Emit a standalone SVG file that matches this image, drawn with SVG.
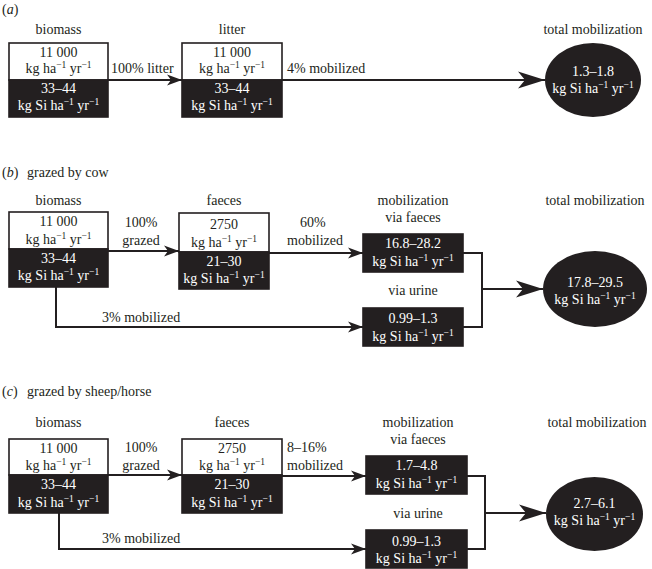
<svg xmlns="http://www.w3.org/2000/svg" width="652" height="569" viewBox="0 0 652 569">
<style>
text{font-family:"Liberation Serif","Times New Roman",serif;font-size:14px;fill:#231f20}
.c{text-anchor:middle}
.w{fill:#fff;text-anchor:middle}
.sup{font-size:9.5px}
.box{fill:#fff;stroke:#231f20;stroke-width:1.6}
.blk{fill:#231f20;stroke:#231f20;stroke-width:1.6}
.ln{fill:none;stroke:#231f20;stroke-width:2}
.sa{marker-end:url(#ah)}
.ba{marker-end:url(#bh)}
</style>
<defs>
<marker id="ah" markerUnits="userSpaceOnUse" markerWidth="16" markerHeight="11" refX="15" refY="5.5" orient="auto" overflow="visible">
<path d="M0,0 L15,5.5 L0,11 L4,5.5 z" fill="#231f20"/>
</marker>
<marker id="bh" markerUnits="userSpaceOnUse" markerWidth="28" markerHeight="17" refX="27" refY="8.5" orient="auto" overflow="visible">
<path d="M0,0 L27,8.5 L0,17 L7,8.5 z" fill="#231f20"/>
</marker>
</defs>

<!-- Panel a -->
<g id="panel-a-label">
<text x="2" y="14">(<tspan font-style="italic">a</tspan>)</text>
</g>
<g id="a-biomass">
<text class="c" x="58.5" y="34">biomass</text>
<rect class="box" x="9" y="43" width="99" height="37"/>
<rect class="blk" x="9" y="80" width="99" height="37"/>
<text class="c" x="58.5" y="57">11 000</text>
<text class="c" x="58.5" y="73">kg ha<tspan class="sup" dy="-5">−1</tspan><tspan dy="5"> yr</tspan><tspan class="sup" dy="-5">−1</tspan></text>
<text class="w" x="58.5" y="93">33–44</text>
<text class="w" x="58.5" y="110">kg Si ha<tspan class="sup" dy="-5">−1</tspan><tspan dy="5"> yr</tspan><tspan class="sup" dy="-5">−1</tspan></text>
</g>
<g id="a-litter">
<text class="c" x="232" y="34">litter</text>
<rect class="box" x="182" y="43" width="100" height="37"/>
<rect class="blk" x="182" y="80" width="100" height="37"/>
<text class="c" x="232" y="57">11 000</text>
<text class="c" x="232" y="73">kg ha<tspan class="sup" dy="-5">−1</tspan><tspan dy="5"> yr</tspan><tspan class="sup" dy="-5">−1</tspan></text>
<text class="w" x="232" y="93">33–44</text>
<text class="w" x="232" y="110">kg Si ha<tspan class="sup" dy="-5">−1</tspan><tspan dy="5"> yr</tspan><tspan class="sup" dy="-5">−1</tspan></text>
</g>
<g id="a-total">
<text class="c" x="593" y="34">total mobilization</text>
<ellipse cx="593" cy="80" rx="48" ry="37" fill="#231f20"/>
<text class="w" x="593" y="76">1.3–1.8</text>
<text class="w" x="593" y="93">kg Si ha<tspan class="sup" dy="-5">−1</tspan><tspan dy="5"> yr</tspan><tspan class="sup" dy="-5">−1</tspan></text>
</g>

<!-- Panel b -->
<g id="panel-b-label">
<text x="2" y="177">(<tspan font-style="italic">b</tspan>)<tspan x="27">grazed by cow</tspan></text>
</g>
<g id="b-biomass">
<text class="c" x="58.5" y="205">biomass</text>
<rect class="box" x="9" y="212" width="99" height="37"/>
<rect class="blk" x="9" y="249" width="99" height="38"/>
<text class="c" x="58.5" y="226">11 000</text>
<text class="c" x="58.5" y="244">kg ha<tspan class="sup" dy="-5">−1</tspan><tspan dy="5"> yr</tspan><tspan class="sup" dy="-5">−1</tspan></text>
<text class="w" x="58.5" y="263">33–44</text>
<text class="w" x="58.5" y="280">kg Si ha<tspan class="sup" dy="-5">−1</tspan><tspan dy="5"> yr</tspan><tspan class="sup" dy="-5">−1</tspan></text>
</g>
<g id="b-faeces">
<text class="c" x="224" y="205">faeces</text>
<rect class="box" x="179" y="213" width="90" height="39"/>
<rect class="blk" x="179" y="252" width="90" height="37"/>
<text class="c" x="224" y="229">2750</text>
<text class="c" x="224" y="247">kg ha<tspan class="sup" dy="-5">−1</tspan><tspan dy="5"> yr</tspan><tspan class="sup" dy="-5">−1</tspan></text>
<text class="w" x="224" y="266">21–30</text>
<text class="w" x="224" y="283">kg Si ha<tspan class="sup" dy="-5">−1</tspan><tspan dy="5"> yr</tspan><tspan class="sup" dy="-5">−1</tspan></text>
</g>
<g id="b-mob-faeces">
<text class="c" x="413" y="205">mobilization</text>
<text class="c" x="413" y="222">via faeces</text>
<rect class="blk" x="363" y="234" width="100" height="38"/>
<text class="w" x="413" y="248">16.8–28.2</text>
<text class="w" x="413" y="266">kg Si ha<tspan class="sup" dy="-5">−1</tspan><tspan dy="5"> yr</tspan><tspan class="sup" dy="-5">−1</tspan></text>
</g>
<g id="b-mob-urine">
<text class="c" x="413" y="295">via urine</text>
<rect class="blk" x="363" y="308" width="100" height="38"/>
<text class="w" x="413" y="323">0.99–1.3</text>
<text class="w" x="413" y="341">kg Si ha<tspan class="sup" dy="-5">−1</tspan><tspan dy="5"> yr</tspan><tspan class="sup" dy="-5">−1</tspan></text>
</g>
<g id="b-total">
<text class="c" x="595" y="205">total mobilization</text>
<ellipse cx="595" cy="289" rx="52" ry="38" fill="#231f20"/>
<text class="w" x="595" y="287">17.8–29.5</text>
<text class="w" x="595" y="304">kg Si ha<tspan class="sup" dy="-5">−1</tspan><tspan dy="5"> yr</tspan><tspan class="sup" dy="-5">−1</tspan></text>
</g>

<!-- Panel c -->
<g id="panel-c-label">
<text x="2" y="396">(<tspan font-style="italic">c</tspan>)<tspan x="27">grazed by sheep/horse</tspan></text>
</g>
<g id="c-biomass">
<text class="c" x="58.5" y="427">biomass</text>
<rect class="box" x="9" y="439" width="99" height="36"/>
<rect class="blk" x="9" y="475" width="99" height="38"/>
<text class="c" x="58.5" y="453">11 000</text>
<text class="c" x="58.5" y="470">kg ha<tspan class="sup" dy="-5">−1</tspan><tspan dy="5"> yr</tspan><tspan class="sup" dy="-5">−1</tspan></text>
<text class="w" x="58.5" y="489">33–44</text>
<text class="w" x="58.5" y="507">kg Si ha<tspan class="sup" dy="-5">−1</tspan><tspan dy="5"> yr</tspan><tspan class="sup" dy="-5">−1</tspan></text>
</g>
<g id="c-faeces">
<text class="c" x="232" y="427">faeces</text>
<rect class="box" x="182" y="439" width="100" height="36"/>
<rect class="blk" x="182" y="475" width="100" height="38"/>
<text class="c" x="232" y="453">2750</text>
<text class="c" x="232" y="470">kg ha<tspan class="sup" dy="-5">−1</tspan><tspan dy="5"> yr</tspan><tspan class="sup" dy="-5">−1</tspan></text>
<text class="w" x="232" y="489">21–30</text>
<text class="w" x="232" y="507">kg Si ha<tspan class="sup" dy="-5">−1</tspan><tspan dy="5"> yr</tspan><tspan class="sup" dy="-5">−1</tspan></text>
</g>
<g id="c-mob-faeces">
<text class="c" x="418" y="427">mobilization</text>
<text class="c" x="418" y="444">via faeces</text>
<rect class="blk" x="366" y="456" width="101" height="38"/>
<text class="w" x="416.5" y="470">1.7–4.8</text>
<text class="w" x="416.5" y="488">kg Si ha<tspan class="sup" dy="-5">−1</tspan><tspan dy="5"> yr</tspan><tspan class="sup" dy="-5">−1</tspan></text>
</g>
<g id="c-mob-urine">
<text class="c" x="418" y="518">via urine</text>
<rect class="blk" x="366" y="530" width="101" height="38"/>
<text class="w" x="416.5" y="546">0.99–1.3</text>
<text class="w" x="416.5" y="563">kg Si ha<tspan class="sup" dy="-5">−1</tspan><tspan dy="5"> yr</tspan><tspan class="sup" dy="-5">−1</tspan></text>
</g>
<g id="c-total">
<text class="c" x="597" y="427">total mobilization</text>
<ellipse cx="594.5" cy="514" rx="48.5" ry="37" fill="#231f20"/>
<text class="w" x="594.5" y="508">2.7–6.1</text>
<text class="w" x="594.5" y="525">kg Si ha<tspan class="sup" dy="-5">−1</tspan><tspan dy="5"> yr</tspan><tspan class="sup" dy="-5">−1</tspan></text>
</g>

<g id="connectors">
<!-- a -->
<line class="ln sa" x1="108" y1="80" x2="182" y2="80"/>
<line class="ln ba" x1="282" y1="80" x2="545" y2="80"/>
<!-- b -->
<line class="ln sa" x1="108" y1="251" x2="179" y2="251"/>
<line class="ln sa" x1="269" y1="253" x2="363" y2="253"/>
<path class="ln sa" d="M56,287 V327 H363"/>
<path class="ln" d="M463,253 H482 V327 H463"/>
<line class="ln ba" x1="482" y1="289" x2="543" y2="289"/>
<!-- c -->
<line class="ln sa" x1="108" y1="475" x2="182" y2="475"/>
<line class="ln sa" x1="282" y1="476" x2="366" y2="476"/>
<path class="ln sa" d="M59,513 V549 H366"/>
<path class="ln" d="M467,476 H485 V549 H467"/>
<line class="ln ba" x1="485" y1="513" x2="546" y2="513"/>
</g>

<g id="connector-labels">
<text x="111" y="73">100% litter</text>
<text x="287" y="73">4% mobilized</text>
<text class="c" x="141" y="227">100%</text>
<text class="c" x="141" y="245">grazed</text>
<text x="300" y="227">60%</text>
<text x="287" y="245">mobilized</text>
<text x="102" y="322">3% mobilized</text>
<text class="c" x="141" y="452">100%</text>
<text class="c" x="141" y="470">grazed</text>
<text x="287" y="452">8–16%</text>
<text x="287" y="470">mobilized</text>
<text x="102" y="543">3% mobilized</text>
</g>
</svg>
